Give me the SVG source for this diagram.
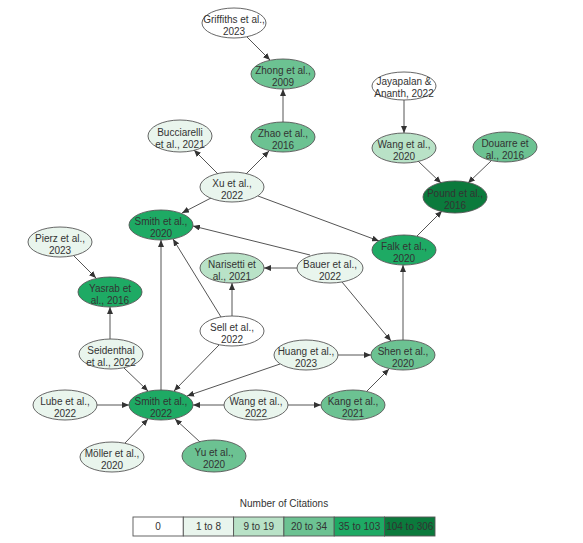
<svg xmlns="http://www.w3.org/2000/svg" width="583" height="543" viewBox="0 0 583 543">
<style>
  .n ellipse { stroke:#555; stroke-width:0.9; }
  .c0 { fill:#ffffff; } .c1 { fill:#e9f5ed; } .c2 { fill:#b9e2c7; }
  .c3 { fill:#6cc292; } .c4 { fill:#1eaa64; } .c5 { fill:#0b7a3c; }
  text { font-family:"Liberation Sans", Arial, sans-serif; font-size:10px; fill:#333; text-anchor:middle; }
  #edges line { stroke:#555; stroke-width:1; marker-end:url(#ah); }
  .lg rect { stroke:#555; stroke-width:0.9; }
</style>
<defs>
  <marker id="ah" markerUnits="userSpaceOnUse" markerWidth="8" markerHeight="6" refX="7" refY="3" orient="auto">
    <path d="M0,0 L7,3 L0,6 z" fill="#333"/>
  </marker>
</defs>
<rect width="583" height="543" fill="#fff"/>
<g id="edges">
  <line x1="247" y1="37" x2="270" y2="60"/>
  <line x1="283" y1="122" x2="283" y2="89"/>
  <line x1="218" y1="174" x2="194" y2="150"/>
  <line x1="246" y1="174" x2="269" y2="151"/>
  <line x1="211" y1="198" x2="182" y2="213"/>
  <line x1="258" y1="196" x2="379" y2="241"/>
  <line x1="310" y1="255" x2="193" y2="226"/>
  <line x1="297" y1="268" x2="264" y2="268"/>
  <line x1="342" y1="282" x2="391" y2="341"/>
  <line x1="232" y1="316" x2="232" y2="283"/>
  <line x1="221" y1="317" x2="173" y2="239"/>
  <line x1="219" y1="345" x2="174" y2="391"/>
  <line x1="161" y1="390" x2="161" y2="240"/>
  <line x1="74" y1="256" x2="96" y2="278"/>
  <line x1="110" y1="339" x2="110" y2="307"/>
  <line x1="124" y1="368" x2="148" y2="391"/>
  <line x1="97" y1="405" x2="129" y2="405"/>
  <line x1="125" y1="443" x2="148" y2="419"/>
  <line x1="200" y1="442" x2="175" y2="419"/>
  <line x1="224" y1="405" x2="193" y2="405"/>
  <line x1="288" y1="405" x2="321" y2="405"/>
  <line x1="280" y1="364" x2="187" y2="396"/>
  <line x1="338" y1="355" x2="371" y2="355"/>
  <line x1="367" y1="391" x2="389" y2="369"/>
  <line x1="403" y1="340" x2="403" y2="265"/>
  <line x1="417" y1="236" x2="442" y2="211"/>
  <line x1="418" y1="161" x2="441" y2="183"/>
  <line x1="491" y1="161" x2="468" y2="183"/>
  <line x1="404" y1="100" x2="404" y2="133"/>
</g>
<g id="griffiths" class="n"><ellipse class="c0" cx="234" cy="23" rx="32" ry="15"/><text x="234" y="23">Griffiths et al.,</text><text x="234" y="35">2023</text></g>
<g id="zhong" class="n"><ellipse class="c3" cx="283" cy="74" rx="32" ry="15"/><text x="283" y="74">Zhong et al.,</text><text x="283" y="86">2009</text></g>
<g id="zhao" class="n"><ellipse class="c3" cx="283" cy="137" rx="32" ry="15"/><text x="283" y="137">Zhao et al.,</text><text x="283" y="149">2016</text></g>
<g id="bucciarelli" class="n"><ellipse class="c1" cx="180" cy="136" rx="32" ry="16"/><text x="180" y="136">Bucciarelli</text><text x="180" y="148">et al., 2021</text></g>
<g id="xu" class="n"><ellipse class="c1" cx="232" cy="187" rx="32" ry="15"/><text x="232" y="187">Xu et al.,</text><text x="232" y="199">2022</text></g>
<g id="smith2020" class="n"><ellipse class="c4" cx="161" cy="225" rx="32" ry="15"/><text x="161" y="225">Smith et al.,</text><text x="161" y="237">2020</text></g>
<g id="pierz" class="n"><ellipse class="c1" cx="60" cy="242" rx="32" ry="15"/><text x="60" y="242">Pierz et al.,</text><text x="60" y="254">2023</text></g>
<g id="yasrab" class="n"><ellipse class="c4" cx="110" cy="292" rx="32" ry="15"/><text x="110" y="292">Yasrab et</text><text x="110" y="304">al., 2016</text></g>
<g id="narisetti" class="n"><ellipse class="c2" cx="232" cy="268" rx="32" ry="15"/><text x="232" y="268">Narisetti et</text><text x="232" y="280">al., 2021</text></g>
<g id="bauer" class="n"><ellipse class="c1" cx="330" cy="268" rx="33" ry="15"/><text x="330" y="268">Bauer et al.,</text><text x="330" y="280">2022</text></g>
<g id="sell" class="n"><ellipse class="c0" cx="232" cy="331" rx="32" ry="15"/><text x="232" y="331">Sell et al.,</text><text x="232" y="343">2022</text></g>
<g id="huang" class="n"><ellipse class="c1" cx="306" cy="355" rx="32" ry="15"/><text x="306" y="355">Huang et al.,</text><text x="306" y="367">2023</text></g>
<g id="shen" class="n"><ellipse class="c3" cx="403" cy="355" rx="32" ry="15"/><text x="403" y="355">Shen et al.,</text><text x="403" y="367">2020</text></g>
<g id="falk" class="n"><ellipse class="c4" cx="404" cy="250" rx="32" ry="15"/><text x="404" y="250">Falk et al.,</text><text x="404" y="262">2020</text></g>
<g id="pound" class="n"><ellipse class="c5" cx="455" cy="197" rx="32" ry="16"/><text x="455" y="197">Pound et al.,</text><text x="455" y="209">2016</text></g>
<g id="wang2020" class="n"><ellipse class="c2" cx="404" cy="148" rx="32" ry="15"/><text x="404" y="148">Wang et al.,</text><text x="404" y="160">2020</text></g>
<g id="douarre" class="n"><ellipse class="c3" cx="505" cy="147" rx="32" ry="15"/><text x="505" y="147">Douarre et</text><text x="505" y="159">al., 2016</text></g>
<g id="jayapalan" class="n"><ellipse class="c0" cx="404" cy="86" rx="32" ry="14"/><text x="404" y="85">Jayapalan &amp;</text><text x="404" y="97">Ananth, 2022</text></g>
<g id="seidenthal" class="n"><ellipse class="c1" cx="111" cy="354" rx="32" ry="15"/><text x="111" y="354">Seidenthal</text><text x="111" y="366">et al., 2022</text></g>
<g id="lube" class="n"><ellipse class="c1" cx="65" cy="405" rx="32" ry="15"/><text x="65" y="405">Lube et al.,</text><text x="65" y="417">2022</text></g>
<g id="smith2022" class="n"><ellipse class="c4" cx="161" cy="405" rx="32" ry="15"/><text x="161" y="405">Smith et al.,</text><text x="161" y="417">2022</text></g>
<g id="wang2022" class="n"><ellipse class="c1" cx="256" cy="405" rx="32" ry="15"/><text x="256" y="405">Wang et al.,</text><text x="256" y="417">2022</text></g>
<g id="kang" class="n"><ellipse class="c3" cx="353" cy="405" rx="32" ry="15"/><text x="353" y="405">Kang et al.,</text><text x="353" y="417">2021</text></g>
<g id="moller" class="n"><ellipse class="c1" cx="112" cy="457" rx="32" ry="15"/><text x="112" y="457">Möller et al.,</text><text x="112" y="469">2020</text></g>
<g id="yu" class="n"><ellipse class="c3" cx="214" cy="456" rx="32" ry="16"/><text x="214" y="456">Yu et al.,</text><text x="214" y="468">2020</text></g>
<g id="legend" class="lg">
  <text x="284" y="507">Number of Citations</text>
  <rect class="c0" x="133" y="517" width="50.3" height="19"/>
  <rect class="c1" x="183.3" y="517" width="50.3" height="19"/>
  <rect class="c2" x="233.6" y="517" width="50.3" height="19"/>
  <rect class="c3" x="283.9" y="517" width="50.3" height="19"/>
  <rect class="c4" x="334.2" y="517" width="50.3" height="19"/>
  <rect class="c5" x="384.5" y="517" width="50.5" height="19"/>
  <text x="158" y="530">0</text>
  <text x="208.5" y="530">1 to 8</text>
  <text x="258.8" y="530">9 to 19</text>
  <text x="309" y="530">20 to 34</text>
  <text x="359.4" y="530">35 to 103</text>
  <text x="409.8" y="530">104 to 306</text>
</g>
</svg>
